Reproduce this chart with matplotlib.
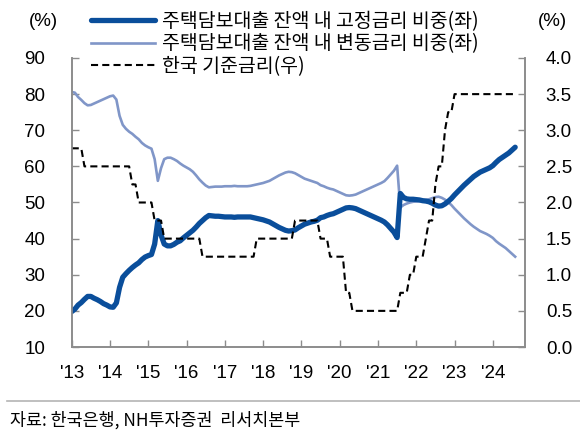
import numpy as np
import matplotlib
matplotlib.use("Agg")
import matplotlib.pyplot as plt
from matplotlib import font_manager

# ---------------- data (monthly, Jan 2013 - Aug 2024) ----------------
start_year = 2013
fixed_share = [
    19.8, 20.5, 21.6, 22.3, 23.2, 24.0, 24.0, 23.5, 23.1, 22.6, 22.0, 21.6,
    21.1, 21.0, 22.2, 26.5, 29.3, 30.3, 31.2, 32.0, 32.7, 33.3, 34.2, 34.9,
    35.3, 35.6, 38.5, 45.0, 41.0, 38.5, 38.0, 38.0, 38.4, 39.0, 39.4, 40.2,
    40.9, 41.6, 42.3, 43.2, 44.2, 45.0, 45.8, 46.4, 46.3, 46.2, 46.2, 46.1,
    46.0, 46.0, 46.0, 45.9, 46.0, 46.0, 46.0, 46.0, 46.0, 45.8, 45.6, 45.4,
    45.2, 44.9, 44.6, 44.1, 43.6, 43.1, 42.7, 42.3, 42.1, 42.2, 42.4, 43.0,
    43.5, 44.0, 44.3, 44.6, 44.8, 45.1, 45.8, 46.0, 46.4, 46.7, 46.9, 47.3,
    47.7, 48.1, 48.5, 48.6, 48.5, 48.3, 47.9, 47.5, 47.1, 46.7, 46.3, 45.9,
    45.5, 45.1, 44.6, 43.8, 42.8, 41.8, 40.3, 52.5, 51.4, 51.0, 50.9, 50.9,
    50.8, 50.7, 50.5, 50.4, 50.2, 49.8, 49.3, 49.0, 49.1, 49.6, 50.3, 51.1,
    52.1, 53.0, 53.9, 54.8, 55.6, 56.4, 57.2, 57.8, 58.4, 58.8, 59.2, 59.6,
    60.2, 61.1, 61.9, 62.5, 63.1, 63.7, 64.5, 65.3,
]
variable_share = [
    80.6, 80.4, 79.2, 78.4, 77.5, 76.9, 77.0, 77.4, 77.8, 78.2, 78.6, 79.0,
    79.4, 79.6, 78.5, 74.0, 71.5, 70.4, 69.6, 69.0, 68.2, 67.5, 66.5, 65.8,
    65.3, 64.9, 62.0, 56.0, 59.5, 62.0, 62.4, 62.4, 62.0, 61.5, 60.8, 60.2,
    59.7, 59.2, 58.5, 57.5, 56.4, 55.5, 54.7, 54.2, 54.3, 54.4, 54.4, 54.4,
    54.5, 54.5, 54.5, 54.6, 54.5, 54.5, 54.5, 54.5, 54.6, 54.8, 55.0, 55.2,
    55.4, 55.7, 56.0, 56.5, 57.0, 57.5, 57.9, 58.3, 58.5, 58.4, 58.1, 57.6,
    57.1, 56.6, 56.3, 56.0, 55.7, 55.4, 54.8, 54.5, 54.1, 53.8, 53.6, 53.2,
    52.8, 52.4, 52.0, 51.9, 52.0, 52.2, 52.6, 53.0, 53.4, 53.8, 54.2, 54.6,
    55.0, 55.4, 55.9, 56.8, 57.8, 58.8, 60.2, 48.6, 49.3, 49.7, 50.0, 50.2,
    50.3, 50.4, 50.6, 50.7, 50.9, 51.2, 51.5, 51.6, 51.3, 50.8, 50.1, 49.3,
    48.3, 47.4, 46.5, 45.6, 44.8, 44.0, 43.3, 42.7, 42.1, 41.7, 41.3, 40.8,
    40.2, 39.3, 38.6, 38.0, 37.4, 36.6, 35.8, 35.0,
]
base_rate = [
    2.75, 2.75, 2.75, 2.75, 2.50, 2.50, 2.50, 2.50, 2.50, 2.50, 2.50, 2.50,
    2.50, 2.50, 2.50, 2.50, 2.50, 2.50, 2.50, 2.25, 2.25, 2.00, 2.00, 2.00,
    2.00, 2.00, 1.75, 1.75, 1.75, 1.50, 1.50, 1.50, 1.50, 1.50, 1.50, 1.50,
    1.50, 1.50, 1.50, 1.50, 1.50, 1.25, 1.25, 1.25, 1.25, 1.25, 1.25, 1.25,
    1.25, 1.25, 1.25, 1.25, 1.25, 1.25, 1.25, 1.25, 1.25, 1.25, 1.50, 1.50,
    1.50, 1.50, 1.50, 1.50, 1.50, 1.50, 1.50, 1.50, 1.50, 1.50, 1.75, 1.75,
    1.75, 1.75, 1.75, 1.75, 1.75, 1.75, 1.50, 1.50, 1.50, 1.25, 1.25, 1.25,
    1.25, 1.25, 0.75, 0.75, 0.50, 0.50, 0.50, 0.50, 0.50, 0.50, 0.50, 0.50,
    0.50, 0.50, 0.50, 0.50, 0.50, 0.50, 0.50, 0.75, 0.75, 0.75, 1.00, 1.00,
    1.25, 1.25, 1.25, 1.50, 1.75, 1.75, 2.25, 2.50, 2.50, 3.00, 3.25, 3.25,
    3.50, 3.50, 3.50, 3.50, 3.50, 3.50, 3.50, 3.50, 3.50, 3.50, 3.50, 3.50,
    3.50, 3.50, 3.50, 3.50, 3.50, 3.50, 3.50, 3.50,
]
year_ticks = list(range(2013, 2025))
year_labels = ["'13", "'14", "'15", "'16", "'17", "'18", "'19", "'20", "'21", "'22", "'23", "'24"]
left_ticks = [10, 20, 30, 40, 50, 60, 70, 80, 90]
right_ticks = [0.0, 0.5, 1.0, 1.5, 2.0, 2.5, 3.0, 3.5, 4.0]
labels = ["주택담보대출 잔액 내 고정금리 비중(좌)",
          "주택담보대출 잔액 내 변동금리 비중(좌)",
          "한국 기준금리(우)"]
source_text = "자료: 한국은행, NH투자증권  리서치본부"

n = len(fixed_share)
dates = start_year + np.arange(n) / 12.0

# ---------------- fonts ----------------
available = {f.name for f in font_manager.fontManager.ttflist}
num_family = [f for f in ["Liberation Sans Narrow", "Liberation Sans", "DejaVu Sans"] if f in available]
kr_family = ["Noto Sans CJK KR", "DejaVu Sans"]
plt.rcParams["font.family"] = kr_family

dark = "#0A4E9B"
light = "#8096C8"
gray = "#8C8C8C"
num_size = 13.5

fig = plt.figure(figsize=(5.8, 4.32), dpi=100)
ax = fig.add_axes([71.7 / 580, 85 / 432, 453.3 / 580, 289 / 432])
ax2 = ax.twinx()

l1, = ax.plot(dates, fixed_share, color=dark, lw=3.8, solid_capstyle="round",
              solid_joinstyle="round", zorder=3)
l2, = ax.plot(dates, variable_share, color=light, lw=1.9, zorder=2)
l3, = ax2.plot(dates, base_rate, color="black", lw=1.5, ls=(0, (3.4, 2.0)), zorder=2)

ax.set_xlim(2013, 2024.84)
ax.set_ylim(10, 90)
ax2.set_ylim(0, 4)
ax.set_xticks(year_ticks)
ax.set_xticklabels(year_labels)
ax.set_yticks(left_ticks)
ax.set_yticklabels([str(v) for v in left_ticks])
ax2.set_yticks(right_ticks)
ax2.set_yticklabels([f"{v:.1f}" for v in right_ticks])

for a in (ax, ax2):
    a.spines["top"].set_visible(False)
    for s in ("left", "right", "bottom"):
        a.spines[s].set_color(gray)
        a.spines[s].set_linewidth(1.2)
    a.set_facecolor("none")

ax.tick_params(axis="x", direction="in", length=5, width=1, color=gray, pad=13,
               labelsize=num_size, labelcolor="black")
ax.tick_params(axis="y", direction="in", length=5, width=1, color=gray, pad=19,
               labelsize=num_size, labelcolor="black")
ax2.tick_params(axis="y", direction="in", length=5, width=1, color=gray, pad=15,
                labelsize=num_size, labelcolor="black")
for lab in ax.get_xticklabels() + ax.get_yticklabels() + ax2.get_yticklabels():
    lab.set_family(num_family)

fig.text(43.5 / 580, 1 - 22 / 432, "(%)", family=num_family, fontsize=num_size,
         ha="center", va="center")
fig.text(552 / 580, 1 - 22 / 432, "(%)", family=num_family, fontsize=num_size,
         ha="center", va="center")

leg = fig.legend([l1, l2, l3], labels, loc="upper left",
                 bbox_to_anchor=(90.5 / 580, 1 - 11 / 432), bbox_transform=fig.transFigure,
                 frameon=False, fontsize=14, handlelength=3.3, handletextpad=0.4,
                 labelspacing=0.08, borderpad=0, borderaxespad=0)

# divider and source
fig.add_artist(plt.Line2D([7 / 580, 1.0], [1 - 401 / 432, 1 - 401 / 432],
                          transform=fig.transFigure, color="#B4B4B4", lw=1.2))
fig.text(10 / 580, 1 - 420 / 432, source_text, fontsize=12.5, ha="left", va="center")

fig.savefig("out.png", dpi=100)
